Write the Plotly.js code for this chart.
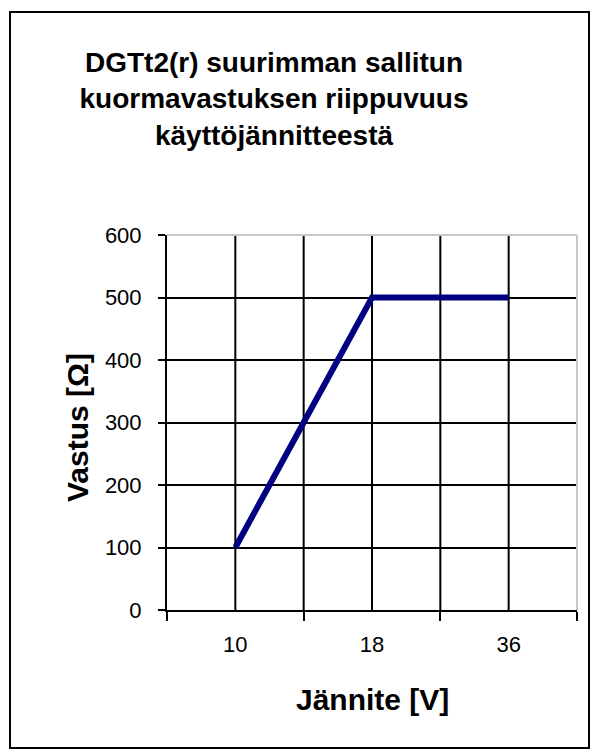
<!DOCTYPE html>
<html>
<head>
<meta charset="utf-8">
<script src="https://cdn.plot.ly/plotly-3.0.1.min.js"></script>
<style>html,body{margin:0;padding:0;background:#fff;}#chart{width:592px;height:754px;}</style>
</head>
<body>
<div id="chart"></div>
<script>
const categories = ['10', '18', '36'];
const resistance = [100, 500, 500];
const yTicks = [0, 100, 200, 300, 400, 500, 600];
const titleText = 'DGTt2(r) suurimman sallitun<br>kuormavastuksen riippuvuus<br>käyttöjännitteestä';
const xTitle = 'Jännite [V]';
const yTitle = 'Vastus [Ω]';

const FONT = 'Arial, "Liberation Sans", Helvetica, sans-serif';
const L = 167, R = 577, T = 235, B = 610, W = 592, H = 754;
const pw = R - L, ph = B - T;
const px = v => (v - L) / pw;
const py = v => (B - v) / ph;

const shapes = [];
const gx = [];
for (let i = 0; i < categories.length; i++) {
  gx.push(i);
  if (i < categories.length - 1) gx.push(i + 0.5);
}
gx.forEach(x => shapes.push({type:'line', xref:'x', yref:'y domain', x0:x, x1:x, y0:0, y1:1,
  line:{color:'#000', width:2}, layer:'below'}));
shapes.push({type:'line', xref:'x domain', yref:'y domain', x0:0, x1:1, y0:1, y1:1, line:{color:'#c8c8c8', width:2}, layer:'above'});
shapes.push({type:'line', xref:'x domain', yref:'y domain', x0:1, x1:1, y0:0, y1:1, line:{color:'#c8c8c8', width:2}, layer:'above'});
shapes.push({type:'rect', xref:'paper', yref:'paper', x0:px(10), x1:px(589), y0:py(748), y1:py(12),
  line:{color:'#000', width:2}, fillcolor:'rgba(0,0,0,0)', layer:'above'});

const annotations = [
  {text:'<b>' + xTitle + '</b>', xref:'paper', yref:'paper', x:0.5, y:py(699), xanchor:'center', yanchor:'middle',
   showarrow:false, font:{family:FONT, size:30, color:'#000'}},
  {text:'<b>' + yTitle + '</b>', xref:'paper', yref:'paper', x:px(77), y:py(428), xanchor:'center', yanchor:'middle',
   textangle:-90, showarrow:false, font:{family:FONT, size:30, color:'#000'}}
];

const data = [{
  type:'scatter', mode:'lines', x:categories, y:resistance,
  line:{color:'#000080', width:6}, hoverinfo:'skip'
}];

const layout = {
  width:W, height:H,
  margin:{l:L, r:W-R, t:T, b:H-B},
  paper_bgcolor:'#fff', plot_bgcolor:'#fff',
  showlegend:false,
  shapes:shapes,
  annotations:annotations,
  title:{text:'<b>' + titleText + '</b>',
    font:{family:FONT, size:28, color:'#000'}, x:274/W, xref:'container', xanchor:'center',
    y:1-72/H, yref:'container', yanchor:'top'},
  xaxis:{type:'category', categoryarray:categories, range:[-0.5, 2.5], tickson:'boundaries',
    ticks:'outside', ticklen:9, tickwidth:2, tickcolor:'#000', showgrid:false,
    showline:true, linecolor:'#000', linewidth:2, zeroline:false, fixedrange:true,
    ticklabelstandoff:14,
    tickfont:{family:FONT, size:22, color:'#000'}},
  yaxis:{range:[0, 600], tickvals:yTicks, ticktext:yTicks.map(String),
    ticks:'outside', ticklen:7, tickwidth:2, tickcolor:'#000',
    showgrid:true, gridcolor:'#000', gridwidth:2, zeroline:false,
    showline:true, linecolor:'#000', linewidth:2, fixedrange:true,
    ticklabelstandoff:12,
    tickfont:{family:FONT, size:22, color:'#000'}}
};

Plotly.newPlot('chart', data, layout, {staticPlot:true, displayModeBar:false});
</script>
</body>
</html>
